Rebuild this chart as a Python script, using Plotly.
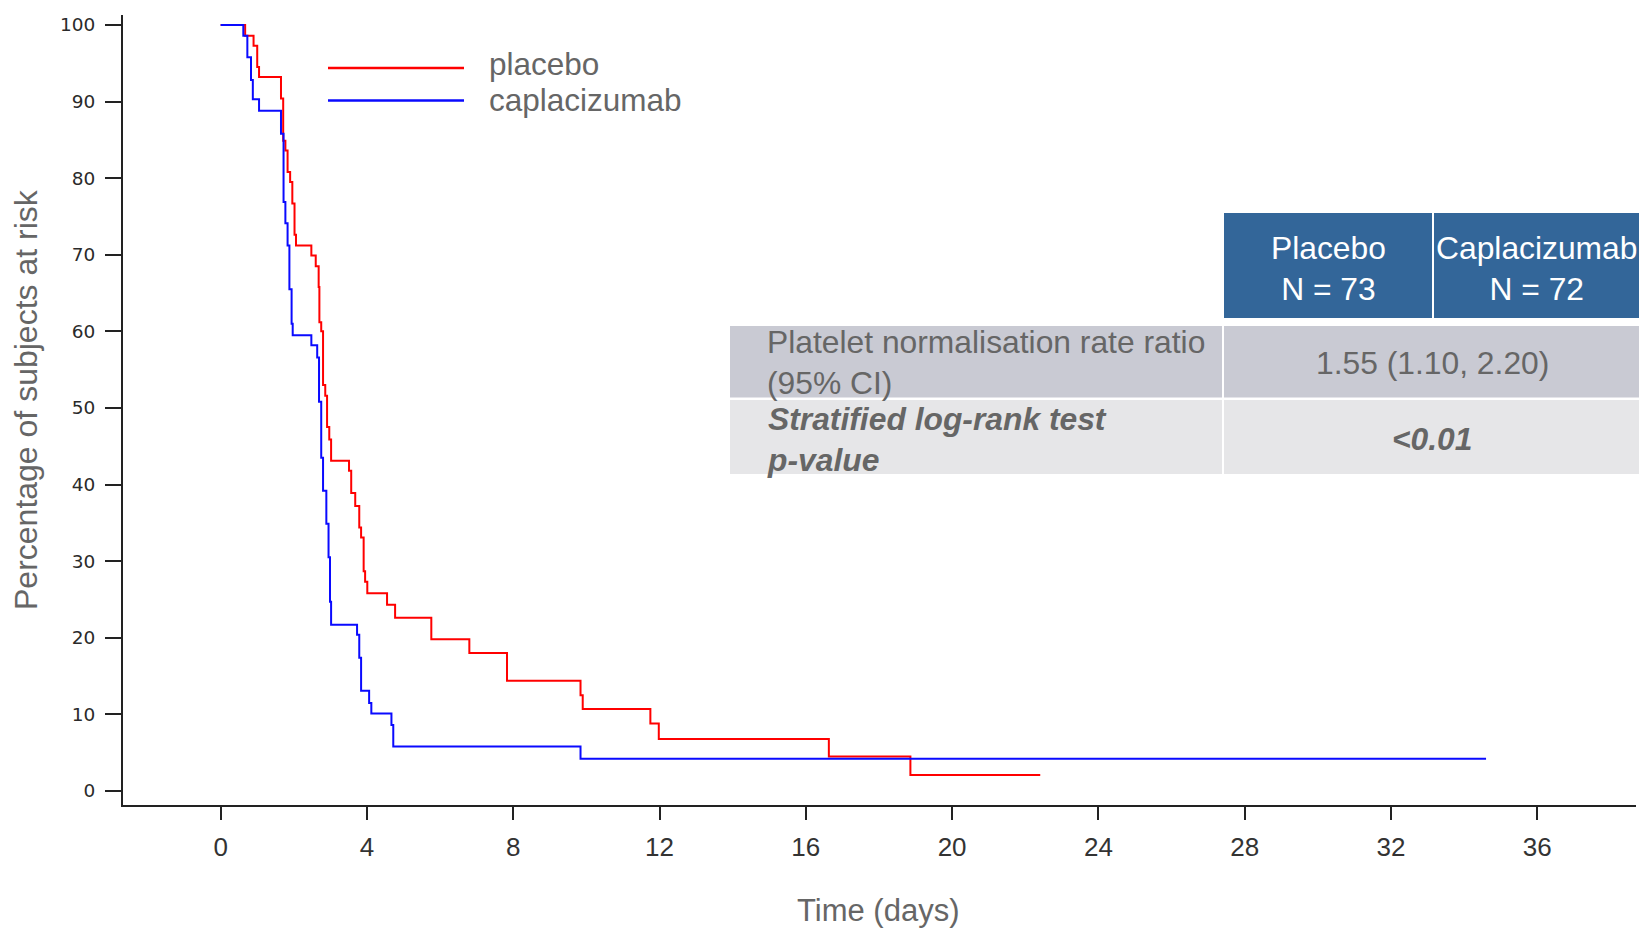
import plotly.graph_objects as go

# ---------------- data ----------------
placebo_days = [0, 0.67, 0.90, 1.00, 1.05, 1.65, 1.71, 1.77, 1.83, 1.90, 1.96, 2.02, 2.06,
                2.48, 2.60, 2.68, 2.70, 2.75, 2.80, 2.86, 2.91, 2.97, 3.02, 3.51, 3.57,
                3.68, 3.79, 3.84, 3.91, 3.95, 4.01, 4.55, 4.77, 5.76, 6.80, 7.83, 9.84,
                9.90, 11.75, 11.98, 16.63, 18.86, 22.41]
placebo_pct = [100, 98.6, 97.3, 94.5, 93.2, 90.4, 84.9, 83.6, 80.8, 79.5, 76.7, 72.6, 71.2,
               69.9, 68.5, 65.8, 61.2, 60.0, 53.0, 51.6, 47.5, 45.9, 43.1, 41.8, 38.9,
               37.2, 34.4, 33.1, 28.7, 27.3, 25.8, 24.3, 22.6, 19.8, 18.0, 14.4, 12.5,
               10.7, 8.8, 6.8, 4.5, 2.1, 2.1]

capla_days = [0, 0.62, 0.73, 0.83, 0.88, 1.05, 1.65, 1.72, 1.77, 1.83, 1.88, 1.94, 1.97,
              2.48, 2.64, 2.69, 2.75, 2.80, 2.89, 2.95, 2.99, 3.02, 3.73, 3.79, 3.84,
              4.06, 4.12, 4.67, 4.72, 9.84, 34.6]
capla_pct = [100, 98.6, 95.8, 92.8, 90.3, 88.8, 85.8, 76.9, 74.1, 71.2, 65.5, 61.0, 59.5,
             58.2, 56.6, 50.8, 43.5, 39.2, 34.9, 30.5, 24.7, 21.7, 20.4, 17.4, 13.1,
             11.5, 10.1, 8.6, 5.8, 4.2, 4.2]

series_names = ["placebo", "caplacizumab"]
series_colors = ["#ff0000", "#0a0aff"]

x_ticks = [0, 4, 8, 12, 16, 20, 24, 28, 32, 36]
y_ticks = [0, 10, 20, 30, 40, 50, 60, 70, 80, 90, 100]

table_header = ["Placebo<br>N = 73", "Caplacizumab<br>N = 72"]
row_labels = ["Platelet normalisation rate ratio<br>(95% CI)",
              "<b><i>Stratified log-rank test<br>p-value</i></b>"]
row_values = ["1.55 (1.10, 2.20)", "<b><i>&lt;0.01</i></b>"]

# ---------------- layout helpers (pixel -> paper) ----------------
W, H = 1639, 928
L, R, T, B = 123, 1636, 15, 805


def px(x):
    return (x - L) / (R - L)


def py(y):
    return (B - y) / (B - T)


FONT = "Liberation Sans, Arial, sans-serif"
GREY = "#666666"

fig = go.Figure()
for days, pct, name, col in [(placebo_days, placebo_pct, series_names[0], series_colors[0]),
                             (capla_days, capla_pct, series_names[1], series_colors[1])]:
    fig.add_trace(go.Scatter(x=days, y=pct, mode="lines", name=name,
                             line=dict(color=col, width=2, shape="hv"),
                             showlegend=False))

shapes = []
annotations = []

# legend (manual)
legend_line_y = [68, 100.5]
legend_text_y = [64, 100]
for i, (name, col) in enumerate(zip(series_names, series_colors)):
    shapes.append(dict(type="line", xref="paper", yref="paper",
                       x0=px(328), x1=px(464), y0=py(legend_line_y[i]), y1=py(legend_line_y[i]),
                       line=dict(color=col, width=2.5)))
    annotations.append(dict(xref="paper", yref="paper", x=px(487), y=py(legend_text_y[i]),
                            xanchor="left", yanchor="middle", text=name, showarrow=False,
                            font=dict(family=FONT, size=31.5, color=GREY)))

# table
HEAD = "#336699"
ROW1 = "#c9cad3"
ROW2 = "#e6e6e8"
cells = [
    (1224, 1432, 213, 318, HEAD),
    (1434, 1645, 213, 318, HEAD),
    (730, 1222, 326, 397.5, ROW1),
    (1224, 1645, 326, 397.5, ROW1),
    (730, 1222, 400, 474, ROW2),
    (1224, 1645, 400, 474, ROW2),
]
for x0, x1, y0, y1, c in cells:
    shapes.append(dict(type="rect", xref="paper", yref="paper",
                       x0=px(x0), x1=px(x1), y0=py(y0), y1=py(y1),
                       fillcolor=c, line=dict(width=0), layer="below"))

TS = 31.8
annotations.append(dict(xref="paper", yref="paper", x=px(1328), y=py(268),
                        text=table_header[0], showarrow=False, align="center",
                        xanchor="center", yanchor="middle",
                        font=dict(family=FONT, size=TS, color="white")))
annotations.append(dict(xref="paper", yref="paper", x=px(1536), y=py(268),
                        text=table_header[1], showarrow=False, align="center",
                        xanchor="center", yanchor="middle",
                        font=dict(family=FONT, size=TS, color="white")))
annotations.append(dict(xref="paper", yref="paper", x=px(765), y=py(362),
                        text=row_labels[0], showarrow=False, align="left",
                        xanchor="left", yanchor="middle",
                        font=dict(family=FONT, size=TS, color=GREY)))
annotations.append(dict(xref="paper", yref="paper", x=px(765), y=py(439),
                        text=row_labels[1], showarrow=False, align="left",
                        xanchor="left", yanchor="middle",
                        font=dict(family=FONT, size=TS, color=GREY)))
annotations.append(dict(xref="paper", yref="paper", x=px(1432), y=py(363),
                        text=row_values[0], showarrow=False, align="center",
                        xanchor="center", yanchor="middle",
                        font=dict(family=FONT, size=TS, color=GREY)))
annotations.append(dict(xref="paper", yref="paper", x=px(1432), y=py(439),
                        text=row_values[1], showarrow=False, align="center",
                        xanchor="center", yanchor="middle",
                        font=dict(family=FONT, size=TS, color=GREY)))

# axis titles
annotations.append(dict(xref="paper", yref="paper", x=px(878), y=py(910),
                        text="Time (days)", showarrow=False,
                        xanchor="center", yanchor="middle",
                        font=dict(family=FONT, size=31, color=GREY)))
annotations.append(dict(xref="paper", yref="paper", x=px(26), y=py(400),
                        text="Percentage of subjects at risk", showarrow=False,
                        textangle=-90, xanchor="center", yanchor="middle",
                        font=dict(family=FONT, size=32, color=GREY)))

fig.update_layout(
    width=W, height=H,
    margin=dict(l=L, r=W - R, t=T, b=H - B),
    plot_bgcolor="white", paper_bgcolor="white",
    shapes=shapes, annotations=annotations,
    xaxis=dict(range=[-2.67, 38.7], tickvals=x_ticks, ticktext=[str(v) for v in x_ticks],
               showgrid=False, zeroline=False, showline=True, linecolor="#222222",
               linewidth=2, ticks="outside", ticklen=13, tickwidth=2, tickcolor="#222222",
               ticklabelstandoff=5,
               tickfont=dict(family=FONT, size=26, color="#333333")),
    yaxis=dict(range=[-1.83, 101.3], tickvals=y_ticks, ticktext=[str(v) for v in y_ticks],
               showgrid=False, zeroline=False, showline=True, linecolor="#222222",
               linewidth=2, ticks="outside", ticklen=16, tickwidth=2, tickcolor="#222222",
               ticklabelstandoff=6,
               tickfont=dict(family="DejaVu Sans, sans-serif", size=18.5, color="#2a2a2a")),
)

fig.write_html(
    "out.html",
    config={"displayModeBar": False},
    post_script="document.body.style.margin='0';document.body.style.overflow='hidden';",
)
